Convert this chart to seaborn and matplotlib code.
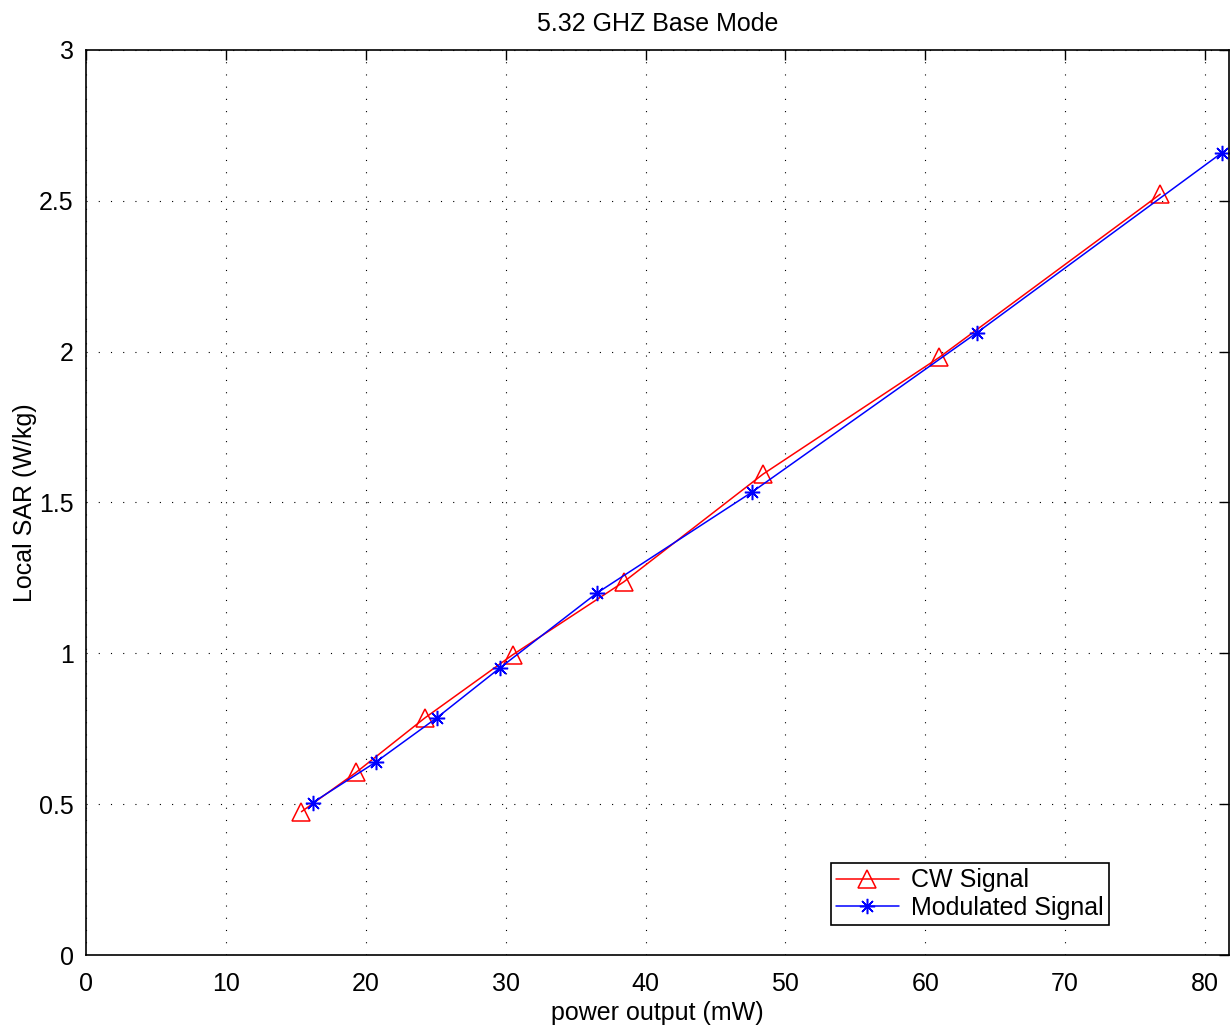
import matplotlib
matplotlib.use('Agg')
import matplotlib.pyplot as plt
import seaborn as sns
import pandas as pd

# data
cw_power = [15.4, 19.3, 24.2, 30.5, 38.45, 48.4, 61.0, 76.8]
cw_sar = [0.475, 0.605, 0.785, 0.995, 1.237, 1.594, 1.981, 2.522]
mod_power = [16.2, 20.7, 25.1, 29.6, 36.5, 47.6, 63.7, 81.2]
mod_sar = [0.505, 0.639, 0.787, 0.952, 1.199, 1.534, 2.063, 2.659]

x_ticks = [0, 10, 20, 30, 40, 50, 60, 70, 80]
y_ticks = [0, 0.5, 1, 1.5, 2, 2.5, 3]

sns.set_style('white')
plt.rcParams['font.family'] = ['Liberation Sans', 'DejaVu Sans']
plt.rcParams['text.color'] = 'black'
plt.rcParams['axes.labelcolor'] = 'black'

fig = plt.figure(figsize=(12.31, 10.26), dpi=100)
ax = fig.add_axes([0.0699, 0.0692, 0.9283, 0.8821])

cw = pd.DataFrame({'p': cw_power, 's': cw_sar})
md = pd.DataFrame({'p': mod_power, 's': mod_sar})

sns.lineplot(data=cw, x='p', y='s', ax=ax, color='#ff0000', lw=1.1, sort=False,
             marker='^', markersize=13, markerfacecolor='none',
             markeredgecolor='#ff0000', markeredgewidth=1.1, label='CW Signal')
sns.lineplot(data=md, x='p', y='s', ax=ax, color='#0000ff', lw=1.1, sort=False,
             marker=(8, 2, 0), markersize=11, markeredgecolor='#0000ff',
             markeredgewidth=1.1, label='Modulated Signal')

ax.set_xlim(0, 81.7)
ax.set_ylim(0, 3)
ax.set_xticks(x_ticks)
ax.set_yticks(y_ticks)
ax.set_yticklabels(['0', '0.5', '1', '1.5', '2', '2.5', '3'])
ax.grid(True, color='black', linestyle=(0, (1, 10)), linewidth=0.8)
ax.tick_params(direction='in', length=7, width=1, top=True, right=True,
               labelsize=18, colors='black')
ax.tick_params(axis='x', pad=12)
ax.tick_params(axis='y', pad=9)
for s in ax.spines.values():
    s.set_visible(True)
    s.set_color('black')
    s.set_linewidth(1.2)

ax.set_title('5.32 GHZ Base Mode', fontsize=18, pad=14, color='black')
ax.set_xlabel('power output (mW)', fontsize=18, labelpad=4)
ax.set_ylabel('Local SAR (W/kg)', fontsize=18, labelpad=1)

leg = ax.legend(loc='lower right', bbox_to_anchor=(0.895, 0.033), fontsize=18,
                frameon=True, fancybox=False, framealpha=1, edgecolor='black',
                borderpad=0.2, labelspacing=0.15, handlelength=2.5,
                handletextpad=0.5, borderaxespad=0)
leg.get_frame().set_linewidth(1.2)

fig.savefig('out.png', dpi=100)
